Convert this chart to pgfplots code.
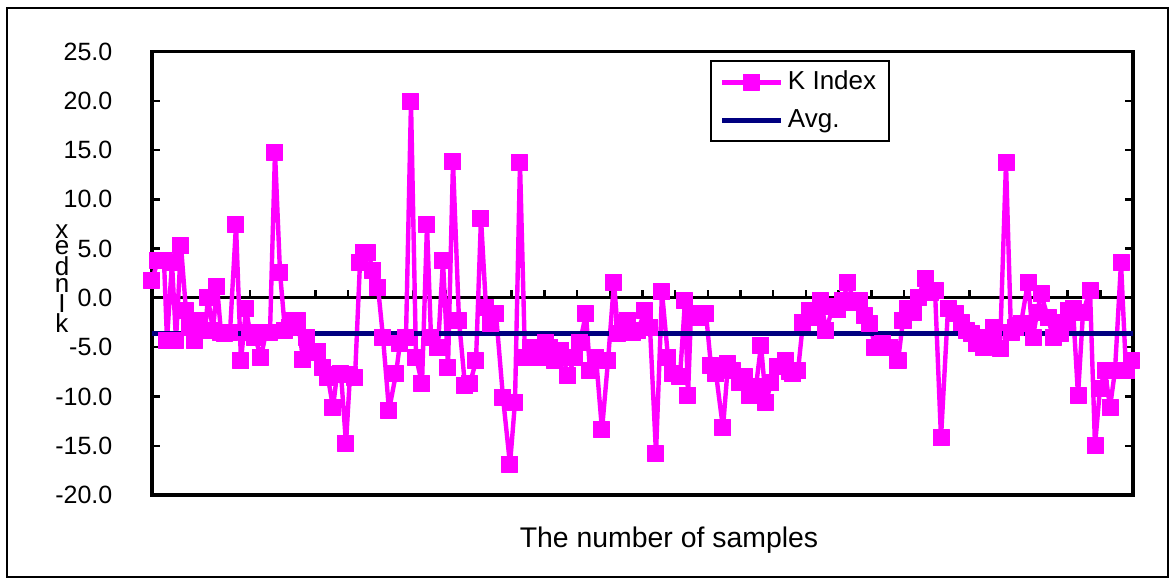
\documentclass[border=0pt]{standalone}
\usepackage{fontspec}
\setmainfont{Liberation Sans}
\usepackage{pgfplots}
\pgfplotsset{compat=1.18}
\definecolor{kmag}{RGB}{255,0,255}
\definecolor{avgnavy}{RGB}{0,0,128}

\begin{document}
\fontsize{12.5}{14}\selectfont
\begin{tikzpicture}
\begin{axis}[
    name=ax, at={(0,0)}, anchor=south west,
    width=490.5pt, height=221.75pt, scale only axis,
    xmin=152, xmax=1133, ymin=-20, ymax=25,
    ytick={-20,-15,...,25}, xtick=\empty,
    tick align=inside, major tick length=4pt,
    axis line style={line width=1.6pt},
    every tick/.style={black, line width=1.2pt},
    /pgf/number format/assume math mode=true,
    y tick label style={/pgf/number format/.cd, fixed, fixed zerofill, precision=1, /tikz/.cd, xshift=-15.5pt},
    clip=false,
    legend style={at={(rel axis cs:0.5688,0.9808)}, anchor=north west,
        draw=black, line width=1pt, inner xsep=4.5pt, inner ysep=3pt,
        row sep=4pt, cells={anchor=west}, font=\fontsize{13}{15}\selectfont},
    legend image code/.code={\draw[#1, mark repeat=2, mark phase=2]
        plot coordinates {(0pt,0pt) (14.75pt,0pt) (29.5pt,0pt)};},
]
% zero line and its tick marks
\addplot[black, line width=1.5pt, forget plot] coordinates {(152,0) (1133,0)};
\addplot[black, line width=1.2pt, ycomb, no marks, forget plot] coordinates {
(184.7,0.8)(217.4,0.8)(250.1,0.8)(282.8,0.8)(315.5,0.8)(348.2,0.8)(380.9,0.8)
(413.6,0.8)(446.3,0.8)(479.0,0.8)(511.7,0.8)(544.4,0.8)(577.1,0.8)(609.8,0.8)
(642.5,0.8)(675.2,0.8)(707.9,0.8)(740.6,0.8)(773.3,0.8)(806.0,0.8)(838.7,0.8)
(871.4,0.8)(904.1,0.8)(936.8,0.8)(969.5,0.8)(1002.2,0.8)(1034.9,0.8)(1067.6,0.8)
(1100.3,0.8)};

\addplot[kmag, line width=2.2pt, line join=round, mark=square*, mark size=4pt,
    mark options={solid, fill=kmag, draw=kmag, line width=0.5pt}] coordinates {
(152,1.8)(158,3.8)(164,3.8)(167,-4.3)(172,3.6)(176,-4.3)(181,5.3)(186,-1.3)
(190,-3.0)(195,-4.3)(200,-2.3)(205,-3.3)(208,0.0)(213,-3.3)(217,1.2)(221,-3.5)
(225,-3.6)(230,-3.5)(236,7.4)(241,-6.4)(246,-1.1)(250,-3.5)(255,-4.0)(261,-6.0)
(266,-3.5)(270,-3.5)(275,14.8)(280,2.6)(285,-3.3)(290,-3.0)(294,-2.3)(298,-2.3)
(303,-6.3)(307,-4.0)(312,-5.5)(318,-5.4)(323,-7.1)(328,-8.1)(333,-11.1)(337,-7.8)
(341,-7.7)(346,-14.8)(350,-7.8)(355,-8.1)(360,3.6)(364,4.6)(368,4.6)(373,2.8)
(378,1.1)(383,-4.0)(389,-11.4)(396,-7.7)(400,-4.6)(406,-4.0)(411,19.9)(416,-6.0)
(422,-8.7)(427,7.4)(431,-4.0)(438,-5.0)(443,3.8)(448,-7.1)(453,13.8)(459,-2.3)
(465,-8.9)(470,-8.7)(476,-6.4)(481,8.1)(486,-1.0)(491,-2.6)(496,-1.6)(503,-10.1)
(510,-16.9)(515,-10.6)(520,13.7)(525,-6.0)(531,-5.0)(536,-5.5)(541,-6.0)(546,-4.5)
(550,-5.0)(555,-6.4)(561,-5.3)(568,-7.9)(575,-6.0)(580,-4.5)(586,-1.6)(590,-7.4)
(596,-6.0)(602,-13.4)(608,-6.4)(614,1.6)(618,-3.6)(623,-2.5)(628,-2.3)(633,-3.5)
(638,-3.3)(645,-1.3)(650,-3.0)(656,-15.8)(662,0.6)(668,-6.0)(673,-7.7)(680,-8.0)
(685,-0.3)(688,-9.9)(691,-1.6)(697,-2.0)(701,-1.6)(706,-1.6)(711,-6.9)(716,-7.7)
(723,-13.2)(728,-6.7)(733,-7.4)(740,-8.6)(745,-8.0)(750,-9.9)(756,-9.0)(761,-4.8)
(766,-10.6)(771,-8.6)(778,-7.0)(786,-6.4)(790,-7.5)(793,-7.7)(798,-7.4)(803,-2.5)
(810,-1.3)(815,-2.0)(821,-0.3)(826,-3.3)(833,-0.9)(838,-1.2)(843,-0.3)(848,1.6)
(854,-0.5)(860,-0.3)(865,-1.8)(870,-2.6)(875,-5.0)(883,-4.6)(890,-5.0)(898,-6.4)
(903,-2.3)(908,-1.1)(913,-1.5)(918,0.0)(925,2.0)(930,0.5)(935,0.8)(941,-14.2)
(948,-1.1)(955,-1.6)(961,-2.5)(966,-3.3)(971,-3.6)(976,-4.6)(983,-5.0)(988,-4.0)
(993,-3.0)(1000,-5.1)(1006,13.7)(1011,-3.5)(1015,-3.0)(1021,-2.6)(1028,1.6)(1033,-4.0)
(1037,-1.5)(1041,0.4)(1048,-2.0)(1053,-4.0)(1060,-3.6)(1064,-2.5)(1068,-1.3)(1073,-1.1)
(1078,-9.9)(1083,-1.5)(1090,0.8)(1095,-15.0)(1100,-9.2)(1105,-7.4)(1110,-11.1)(1115,-7.4)
(1121,3.6)(1126,-7.4)(1131,-6.4)};
\addlegendentry{K Index}

\addplot[avgnavy, line width=2.5pt] coordinates {(152,-3.6) (1133,-3.6)};
\addlegendentry{Avg.}
\end{axis}

% y label, letters stacked as in the reference
\node[align=center, font=\fontsize{13}{6.8}\selectfont] at (-45pt,108pt) {x\\e\\d\\n\\I\\k};
\node[font=\fontsize{14.2}{16}\selectfont] at (258.5pt,-22.5pt) {The number of samples};
% chart area frame
\draw[line width=1.2pt] (-72.5pt,-41pt) rectangle (508pt,243.5pt);
\pgfresetboundingbox
\useasboundingbox (-76pt,-42.5pt) rectangle (511.5pt,247.5pt);
\end{tikzpicture}
\end{document}
